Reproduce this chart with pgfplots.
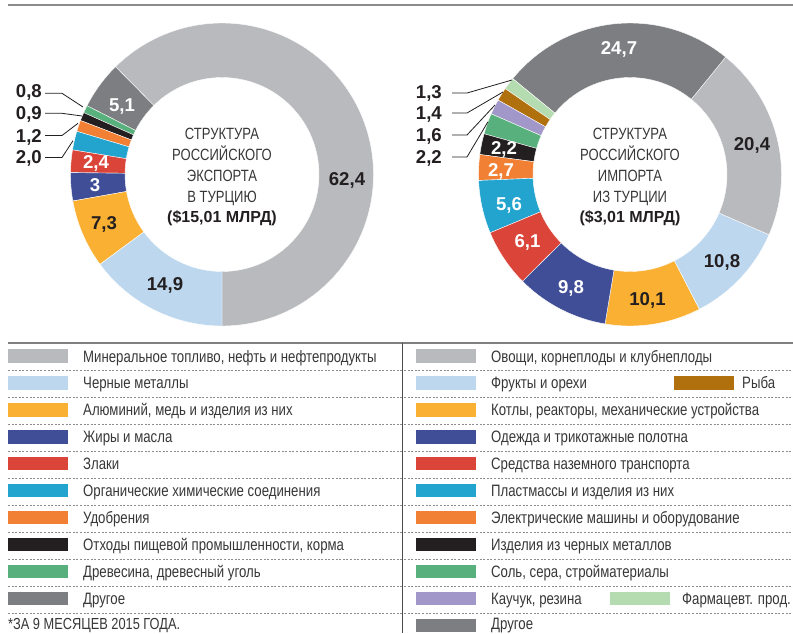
\documentclass[border=0pt]{standalone}
\usepackage{pgfplots}
\pgfplotsset{compat=1.18}
\usepackage{fontspec}
\setmainfont{Liberation Sans}
\newfontfamily\condfont{Liberation Sans}[FakeStretch=0.8]
\definecolor{cGreyL}{RGB}{185,186,190}
\definecolor{cBlueL}{RGB}{189,215,238}
\definecolor{cYellow}{RGB}{250,176,51}
\definecolor{cNavy}{RGB}{63,78,150}
\definecolor{cRed}{RGB}{219,68,57}
\definecolor{cCyan}{RGB}{35,164,206}
\definecolor{cOrange}{RGB}{242,128,52}
\definecolor{cBlack}{RGB}{35,31,32}
\definecolor{cGreen}{RGB}{88,176,125}
\definecolor{cGreyD}{RGB}{125,126,130}
\definecolor{cBrown}{RGB}{176,112,14}
\definecolor{cPurple}{RGB}{162,151,201}
\definecolor{cGreenL}{RGB}{180,220,176}
\definecolor{cText}{RGB}{55,55,57}
\newcommand{\legfont}{\condfont\fontsize{16.5}{18}\selectfont}
\newcommand{\numfont}{\fontsize{18.6}{20}\selectfont\bfseries}
\newcommand{\ctrfont}{\condfont\fontsize{16.3}{18}\selectfont}
% donut: #1 cx, #2 cy, #3 start angle, #4 degrees per unit, #5 list value/colour
\newcommand{\donut}[5]{%
  \xdef\cum{#3}%
  \foreach \v/\c in {#5} {%
    \pgfmathsetmacro{\a}{\cum}%
    \pgfmathsetmacro{\b}{\cum+\v*#4}%
    \pgfmathsetmacro{\xa}{#1+151.5*cos(\a)}%
    \pgfmathsetmacro{\ya}{#2-151.5*sin(\a)}%
    \pgfmathsetmacro{\xb}{#1+97*cos(\b)}%
    \pgfmathsetmacro{\yb}{#2-97*sin(\b)}%
    \edef\temp{\noexpand\fill[\c,draw=white,line width=0.4pt] (axis cs:\xa,\ya) arc[start angle=\a,end angle=\b,radius=151.5pt] -- (axis cs:\xb,\yb) arc[start angle=\b,end angle=\a,radius=97pt] -- cycle;}%
    \temp
    \xdef\cum{\b}%
  }%
}
\newcommand{\legrow}[4]{%
  \fill[#3] (axis cs:{#1},{#2-6.7}) rectangle (axis cs:{#1+60},{#2+6.7});
  \node[anchor=base west, inner sep=0pt, text=cText, font=\legfont] at (axis cs:{#1+75},{#2+6}) {#4};
}
\begin{document}
\begin{tikzpicture}
\begin{axis}[scale only axis, width=793pt, height=633pt,
  xmin=0, xmax=793, ymin=0, ymax=633, y dir=reverse,
  hide axis, clip=false]
\coordinate (BL) at (axis cs:0,633);
\coordinate (TR) at (axis cs:793,0);
% rules
\draw[line width=2pt, color=black!45] (axis cs:8,5.3) -- (axis cs:793,5.3);
\draw[line width=2pt, color=black!50] (axis cs:8,342.7) -- (axis cs:793,342.7);
\draw[line width=0.8pt, color=black!70] (axis cs:402.5,343) -- (axis cs:402.5,633);
\pgfplotsinvokeforeach{370.7,397.6,424.6,451.5,478.4,505.4,532.3,559.2,586.1,613.1}{
  \draw[line width=0.6pt, color=black!45, dash pattern=on 2pt off 1.6pt] (axis cs:8,#1) -- (axis cs:793,#1);
}
% export donut
\donut{222}{174.5}{-90}{3.6}{62.4/cGreyL, 5.1/cGreyD, 0.8/cGreen, 0.9/cBlack, 1.2/cOrange, 2.0/cCyan, 2.4/cRed, 3/cNavy, 7.3/cYellow, 14.9/cBlueL}
% import donut
\donut{630}{174.5}{-99.5}{3.64004}{10.1/cYellow, 10.8/cBlueL, 20.4/cGreyL, 24.7/cGreyD, 1.3/cGreenL, 1.4/cBrown, 1.6/cPurple, 2.2/cGreen, 2.2/cBlack, 2.7/cOrange, 5.6/cCyan, 6.1/cRed, 9.8/cNavy}
% centre texts
\node[anchor=base, inner sep=0pt, text=cText, font=\ctrfont] at (axis cs:222,139.8) {СТРУКТУРА};
\node[anchor=base, inner sep=0pt, text=cText, font=\ctrfont] at (axis cs:222,160.8) {РОССИЙСКОГО};
\node[anchor=base, inner sep=0pt, text=cText, font=\ctrfont] at (axis cs:222,181.8) {ЭКСПОРТА};
\node[anchor=base, inner sep=0pt, text=cText, font=\ctrfont] at (axis cs:222,202.8) {В ТУРЦИЮ};
\node[anchor=base, inner sep=0pt, text=cBlack, font=\fontsize{16}{18}\selectfont\bfseries] at (axis cs:222,222.8) {(\$15,01 МЛРД)};
\node[anchor=base, inner sep=0pt, text=cText, font=\ctrfont] at (axis cs:630,139.8) {СТРУКТУРА};
\node[anchor=base, inner sep=0pt, text=cText, font=\ctrfont] at (axis cs:630,160.8) {РОССИЙСКОГО};
\node[anchor=base, inner sep=0pt, text=cText, font=\ctrfont] at (axis cs:630,181.8) {ИМПОРТА};
\node[anchor=base, inner sep=0pt, text=cText, font=\ctrfont] at (axis cs:630,202.8) {ИЗ ТУРЦИИ};
\node[anchor=base, inner sep=0pt, text=cBlack, font=\fontsize{16}{18}\selectfont\bfseries] at (axis cs:630,222.8) {(\$3,01 МЛРД)};
% export labels
\node[anchor=base, inner sep=0pt, text=cBlack, font=\numfont] at (axis cs:347,185.6) {62,4};
\node[anchor=base, inner sep=0pt, text=cBlack, font=\numfont] at (axis cs:165,290.6) {14,9};
\node[anchor=base, inner sep=0pt, text=cBlack, font=\numfont] at (axis cs:104,229.6) {7,3};
\node[anchor=base, inner sep=0pt, text=white, font=\numfont] at (axis cs:95,191.6) {3};
\node[anchor=base, inner sep=0pt, text=white, font=\numfont] at (axis cs:96,168.6) {2,4};
\node[anchor=base, inner sep=0pt, text=white, font=\numfont] at (axis cs:122,111.6) {5,1};
\node[anchor=base east, inner sep=0pt, text=cBlack, font=\numfont] at (axis cs:42,97.3) {0,8};
\node[anchor=base east, inner sep=0pt, text=cBlack, font=\numfont] at (axis cs:42,119.3) {0,9};
\node[anchor=base east, inner sep=0pt, text=cBlack, font=\numfont] at (axis cs:42,142.6) {1,2};
\node[anchor=base east, inner sep=0pt, text=cBlack, font=\numfont] at (axis cs:42,163.6) {2,0};
\draw[cBlack, line width=0.8pt] (axis cs:45,93.3) -- (axis cs:62,93.3) -- (axis cs:83,107);
\draw[cBlack, line width=0.8pt] (axis cs:45,113.3) -- (axis cs:62,113.3) -- (axis cs:82,116);
\draw[cBlack, line width=0.8pt] (axis cs:45,135.5) -- (axis cs:62,135.5) -- (axis cs:78,123.3);
\draw[cBlack, line width=0.8pt] (axis cs:45,157.5) -- (axis cs:62,157.5) -- (axis cs:73,140.7);
% import labels
\node[anchor=base, inner sep=0pt, text=white, font=\numfont] at (axis cs:619,54) {24,7};
\node[anchor=base, inner sep=0pt, text=cBlack, font=\numfont] at (axis cs:752,150.6) {20,4};
\node[anchor=base, inner sep=0pt, text=cBlack, font=\numfont] at (axis cs:722,267.6) {10,8};
\node[anchor=base, inner sep=0pt, text=cBlack, font=\numfont] at (axis cs:647.5,305.6) {10,1};
\node[anchor=base, inner sep=0pt, text=white, font=\numfont] at (axis cs:571,293.6) {9,8};
\node[anchor=base, inner sep=0pt, text=white, font=\numfont] at (axis cs:527.5,247.6) {6,1};
\node[anchor=base, inner sep=0pt, text=white, font=\numfont] at (axis cs:509,210.6) {5,6};
\node[anchor=base, inner sep=0pt, text=white, font=\numfont] at (axis cs:501,176.6) {2,7};
\node[anchor=base, inner sep=0pt, text=white, font=\numfont] at (axis cs:504,154.6) {2,2};
\node[anchor=base east, inner sep=0pt, text=cBlack, font=\numfont] at (axis cs:442,98.3) {1,3};
\node[anchor=base east, inner sep=0pt, text=cBlack, font=\numfont] at (axis cs:442,119.6) {1,4};
\node[anchor=base east, inner sep=0pt, text=cBlack, font=\numfont] at (axis cs:442,141.6) {1,6};
\node[anchor=base east, inner sep=0pt, text=cBlack, font=\numfont] at (axis cs:442,163.3) {2,2};
\draw[cBlack, line width=0.8pt] (axis cs:452,93) -- (axis cs:467,93) -- (axis cs:512,80);
\draw[cBlack, line width=0.8pt] (axis cs:452,113) -- (axis cs:467,113) -- (axis cs:503,92);
\draw[cBlack, line width=0.8pt] (axis cs:452,135) -- (axis cs:467,135) -- (axis cs:495,105);
\draw[cBlack, line width=0.8pt] (axis cs:452,157) -- (axis cs:467,157) -- (axis cs:488,121.7);
% legend, left column
\legrow{8}{356}{cGreyL}{Минеральное топливо, нефть и нефтепродукты}
\legrow{8}{382.9}{cBlueL}{Черные металлы}
\legrow{8}{409.9}{cYellow}{Алюминий, медь и изделия из них}
\legrow{8}{436.8}{cNavy}{Жиры и масла}
\legrow{8}{463.7}{cRed}{Злаки}
\legrow{8}{490.7}{cCyan}{Органические химические соединения}
\legrow{8}{517.6}{cOrange}{Удобрения}
\legrow{8}{544.5}{cBlack}{Отходы пищевой промышленности, корма}
\legrow{8}{571.4}{cGreen}{Древесина, древесный уголь}
\legrow{8}{598.4}{cGreyD}{Другое}
\node[anchor=base west, inner sep=0pt, text=cText, font=\condfont\fontsize{16}{18}\selectfont] at (axis cs:8,629.2) {*ЗА 9 МЕСЯЦЕВ 2015 ГОДА.};
% legend, right column
\legrow{416}{356}{cGreyL}{Овощи, корнеплоды и клубнеплоды}
\legrow{416}{382.9}{cBlueL}{Фрукты и орехи}
\legrow{674}{382.9}{cBrown}{}
\node[anchor=base west, inner sep=0pt, text=cText, font=\legfont] at (axis cs:742,388.9) {Рыба};
\legrow{416}{409.9}{cYellow}{Котлы, реакторы, механические устройства}
\legrow{416}{436.8}{cNavy}{Одежда и трикотажные полотна}
\legrow{416}{463.7}{cRed}{Средства наземного транспорта}
\legrow{416}{490.7}{cCyan}{Пластмассы и изделия из них}
\legrow{416}{517.6}{cOrange}{Электрические машины и оборудование}
\legrow{416}{544.5}{cBlack}{Изделия из черных металлов}
\legrow{416}{571.4}{cGreen}{Соль, сера, стройматериалы}
\legrow{416}{598.4}{cPurple}{Каучук, резина}
\legrow{610}{598.4}{cGreenL}{}
\node[anchor=base west, inner sep=0pt, text=cText, font=\legfont] at (axis cs:682,604.4) {Фармацевт. прод.};
\fill[cGreyD] (axis cs:416,618.6) rectangle (axis cs:476,632);
\node[anchor=base west, inner sep=0pt, text=cText, font=\legfont] at (axis cs:491,629.2) {Другое};
\end{axis}
\pgfresetboundingbox
\useasboundingbox (BL) rectangle (TR);
\end{tikzpicture}
\end{document}
